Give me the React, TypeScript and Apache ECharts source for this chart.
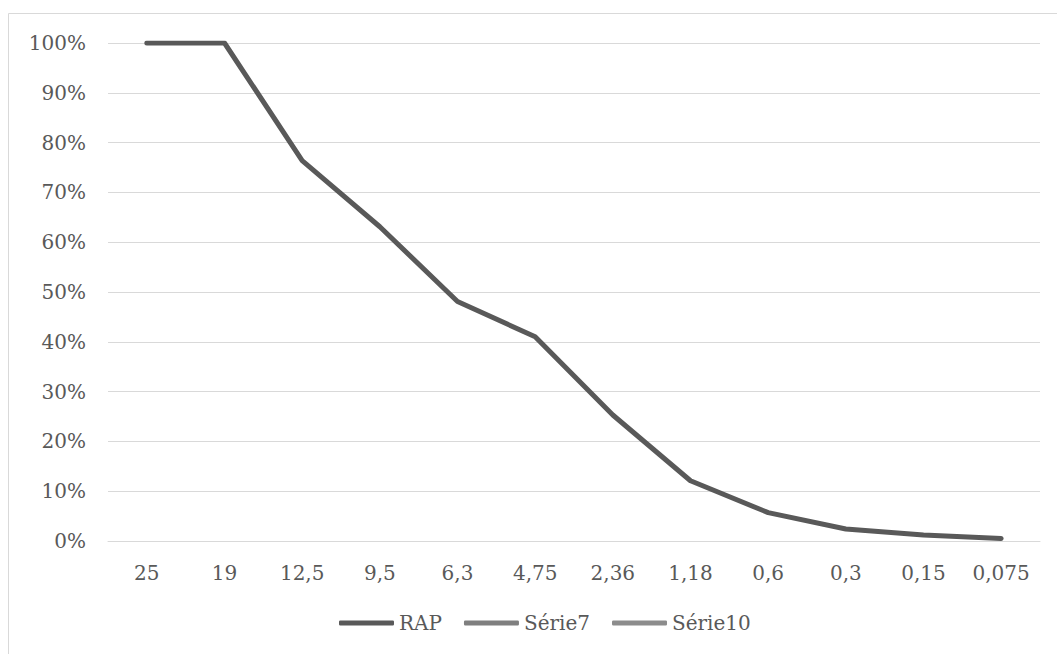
import React, { useEffect, useRef } from "react";
import * as echarts from "echarts";

// Sieve sizes (mm) and cumulative percentage passing
const sieves = ["25", "19", "12,5", "9,5", "6,3", "4,75", "2,36", "1,18", "0,6", "0,3", "0,15", "0,075"];
const rapPassing = [100, 100, 76.4, 63.1, 48.1, 41.0, 25.3, 12.1, 5.7, 2.4, 1.2, 0.5];
const serie7: number[] = [];
const serie10: number[] = [];
const seriesNames = ["RAP", "Série7", "Série10"];

const FONT = "DejaVu Serif";
const TEXT = "#595959";

export default function App() {
  const ref = useRef<HTMLDivElement>(null);

  useEffect(() => {
    if (!ref.current) return;
    const chart = echarts.init(ref.current, undefined, { renderer: "svg" });
    const line = (name: string, data: number[], color: string) => ({
      name,
      type: "line",
      data,
      symbol: "none",
      showSymbol: false,
      color,
      lineStyle: { color, width: 5, cap: "round", join: "round" },
    });
    chart.setOption({
      animation: false,
      backgroundColor: "#ffffff",
      textStyle: { fontFamily: FONT, color: TEXT },
      graphic: [
        {
          type: "rect",
          shape: { x: 8.5, y: 13.5, width: 1200, height: 800 },
          style: { fill: "none", stroke: "#d9d9d9", lineWidth: 1 },
          silent: true,
        },
      ],
      grid: { left: 108, right: 17, top: 43, bottom: 113 },
      legend: {
        data: seriesNames,
        left: 334,
        top: 608,
        icon: "roundRect",
        itemWidth: 55,
        itemHeight: 5,
        itemGap: 22,
        textStyle: { fontFamily: FONT, fontSize: 20, color: TEXT },
      },
      xAxis: {
        type: "category",
        data: sieves,
        boundaryGap: true,
        axisLine: { show: true, lineStyle: { color: "#d9d9d9", width: 1 } },
        axisTick: { show: false },
        axisLabel: { fontFamily: FONT, fontSize: 20, color: TEXT, margin: 22, interval: 0 },
      },
      yAxis: {
        type: "value",
        min: 0,
        max: 100,
        interval: 10,
        axisLine: { show: false },
        axisTick: { show: false },
        splitLine: { lineStyle: { color: "#d9d9d9", width: 1 } },
        axisLabel: { fontFamily: FONT, fontSize: 20, color: TEXT, margin: 22, formatter: "{value}%" },
      },
      series: [
        line(seriesNames[0], rapPassing, "#595959"),
        line(seriesNames[1], serie7, "#7f7f7f"),
        line(seriesNames[2], serie10, "#8c8c8c"),
      ],
    });
    return () => chart.dispose();
  }, []);

  return (
    <div
      ref={ref}
      style={{ position: "absolute", left: 0, top: 0, width: 1057, height: 654 }}
    />
  );
}
